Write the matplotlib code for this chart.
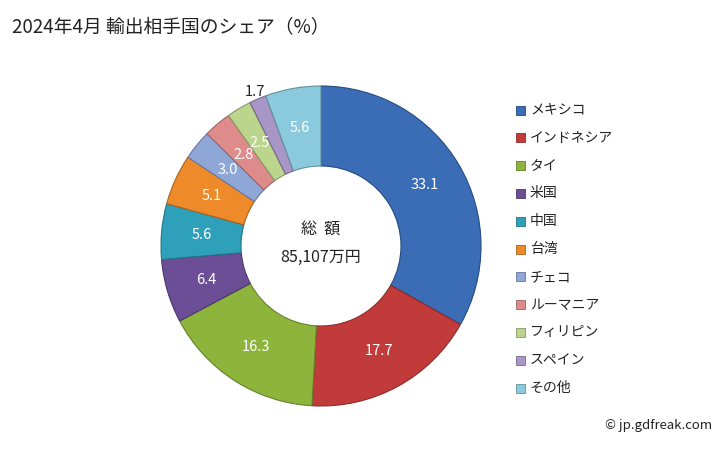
import matplotlib
matplotlib.use('Agg')
import matplotlib.pyplot as plt
import numpy as np

plt.rcParams['font.family'] = ['Noto Sans CJK JP', 'DejaVu Sans']

# data
countries = ['メキシコ', 'インドネシア', 'タイ', '米国', '中国', '台湾',
             'チェコ', 'ルーマニア', 'フィリピン', 'スペイン', 'その他']
shares = [33.1, 17.7, 16.3, 6.4, 5.6, 5.1, 3.0, 2.8, 2.5, 1.7, 5.6]
colors = ['#3A6DB5', '#C23B3B', '#8DB53C', '#6B4E96', '#2FA0B9', '#EE8A2A',
          '#8EA7D6', '#DE8B8B', '#BCD58C', '#A896C6', '#8BCADC']
edge_colors = ['#244A80', '#8C2A2A', '#667F2B', '#4C376B', '#217385', '#AA631E',
               '#6678A0', '#A06464', '#889A64', '#79698F', '#62919E']
total_label = '85,107万円'

fig = plt.figure(figsize=(7.28, 4.5), dpi=100)
fig.text(12 / 728, 1 - 27 / 450, '2024年4月 輸出相手国のシェア（%）', fontsize=13.5,
         va='center', ha='left', color='#222222')

# pie axes: centre (321, 246) px, radius 160 px
ax = fig.add_axes([161 / 728, 44 / 450, 320 / 728, 320 / 450])
wedges, _ = ax.pie(shares, colors=colors, startangle=90, counterclock=False,
                   radius=1.0, wedgeprops=dict(width=0.5, linewidth=0.8))
for w, ec in zip(wedges, edge_colors):
    w.set_edgecolor(ec)
ax.set_xlim(-1, 1)
ax.set_ylim(-1, 1)
ax.set_aspect('equal')
ax.axis('off')

# labels inside the ring
for w, v in zip(wedges, shares):
    ang = np.deg2rad((w.theta1 + w.theta2) / 2)
    if v < 2:
        r = 1.05
        col = '#222222'
    else:
        r = 0.75
        col = 'white'
    ax.text(r * np.cos(ang), r * np.sin(ang), f'{v:.1f}', ha='center', va='center',
            fontsize=10.5, color=col)

ax.text(0, 0.1, '総  額', ha='center', va='center', fontsize=11.5, color='#222222')
ax.text(0, -0.07, total_label, ha='center', va='center', fontsize=11.5, color='#222222')

# legend
for i, (name, c) in enumerate(zip(countries, colors)):
    y = 110 + i * 27.8
    fig.patches.append(plt.Rectangle((516 / 728, 1 - (y + 4.5) / 450), 9 / 728, 9 / 450,
                                     transform=fig.transFigure, facecolor=c,
                                     edgecolor=edge_colors[i], linewidth=0.6))
    fig.text(530 / 728, 1 - y / 450, name, fontsize=10, va='center', ha='left',
             color='#222222')

fig.text(712 / 728, 1 - 425 / 450, '© jp.gdfreak.com', fontsize=9.5, ha='right',
         va='center', color='#222222')

fig.savefig('out.png', dpi=100)
